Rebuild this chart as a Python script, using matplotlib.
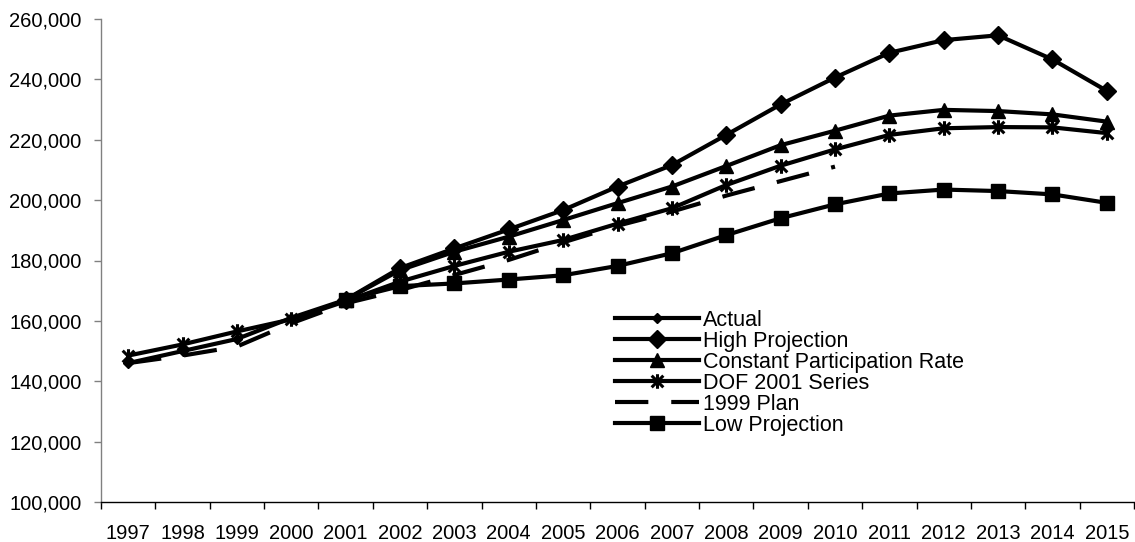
import numpy as np
import matplotlib
matplotlib.use("Agg")
import matplotlib.pyplot as plt
from matplotlib.path import Path
from matplotlib.ticker import FuncFormatter, FixedLocator

years = [str(y) for y in range(1997, 2016)]

# series values, None where a series has no data
actual = [146000, 150000, 154000, 161000, 167000] + [None]*14
high = [None]*4 + [167000, 177500, 184000, 190300, 196700, 204500, 211600,
                   221600, 231700, 240600, 248800, 253000, 254600, 246600, 236200]
constant = [None]*4 + [167000, 176800, 182900, 187900, 193400, 199000, 204500,
                       211300, 218200, 223000, 228000, 229900, 229500, 228400, 226000]
dof2001 = [148500, 152200, 156500, 160500, 166500, 173000, 178200, 182900, 186800,
           192200, 197300, 205000, 211400, 216800, 221600, 223800, 224200, 224100, 222200]
plan1999 = [146000, 148500, 151500, 159200, 165800, 170200, 175200, 180200, 186000,
            191500, 196200, 201500, 206300, 211100] + [None]*5
low = [None]*4 + [167000, 171500, 172400, 173700, 175100, 178200, 182400,
                  188400, 194000, 198600, 202200, 203500, 203000, 201900, 199100]

yticks = list(range(100000, 260001, 20000))

def arr(v):
    return np.array([np.nan if a is None else a for a in v], dtype=float)

# asterisk: vertical bar plus an X
star = Path([(0, -1), (0, 1), (-0.8, -0.8), (0.8, 0.8), (-0.8, 0.8), (0.8, -0.8)],
            [Path.MOVETO, Path.LINETO, Path.MOVETO, Path.LINETO, Path.MOVETO, Path.LINETO])

plt.rcParams['font.family'] = ['Liberation Sans', 'DejaVu Sans']

fig = plt.figure(figsize=(11.35, 5.42), dpi=100)
ax = fig.add_axes([101/1135, 1-502/542, 1033/1135, 483/542])

x = np.arange(len(years))
lw = 3
ax.plot(x, arr(actual), color='black', lw=lw, marker='D', ms=5, label='Actual')
ax.plot(x, arr(high), color='black', lw=lw, marker='D', ms=9.5, label='High Projection')
ax.plot(x, arr(constant), color='black', lw=lw, marker='^', ms=10, label='Constant Participation Rate')
ax.plot(x, arr(dof2001), color='black', lw=lw, marker=star, ms=10.5, mew=2.2, label='DOF 2001 Series')
ax.plot(x, arr(plan1999), color='black', lw=lw, linestyle=(0, (8, 5.5)), label='1999 Plan')
ax.plot(x, arr(low), color='black', lw=lw, marker='s', ms=10.5, label='Low Projection')

ax.set_xlim(-0.5, len(years)-0.5)
ax.set_ylim(100000, 260000)

ax.xaxis.set_major_locator(FixedLocator(x))
ax.set_xticklabels(years)
ax.xaxis.set_minor_locator(FixedLocator(np.arange(len(years)+1)-0.5))
ax.tick_params(axis='x', which='major', length=0, pad=16, labelsize=14.5)
ax.tick_params(axis='x', which='minor', length=5, width=1, color='black')

ax.set_yticks(yticks)
ax.yaxis.set_major_formatter(FuncFormatter(lambda v, p: f"{int(v):,}"))
ax.tick_params(axis='y', length=5, width=1, color='#808080', pad=9, labelsize=14.5)

for s in ['top', 'right']:
    ax.spines[s].set_visible(False)
ax.spines['left'].set_color('#808080')
ax.spines['bottom'].set_color('black')
ax.spines['left'].set_linewidth(1)
ax.spines['bottom'].set_linewidth(1)

leg = ax.legend(loc='upper left', bbox_to_anchor=(615/1135, 1-310/542),
                bbox_transform=fig.transFigure, frameon=False, fontsize=15.5,
                handlelength=3.9, handletextpad=0.2, labelspacing=0.0,
                borderpad=0, borderaxespad=0)

fig.savefig('out.png', dpi=100)
